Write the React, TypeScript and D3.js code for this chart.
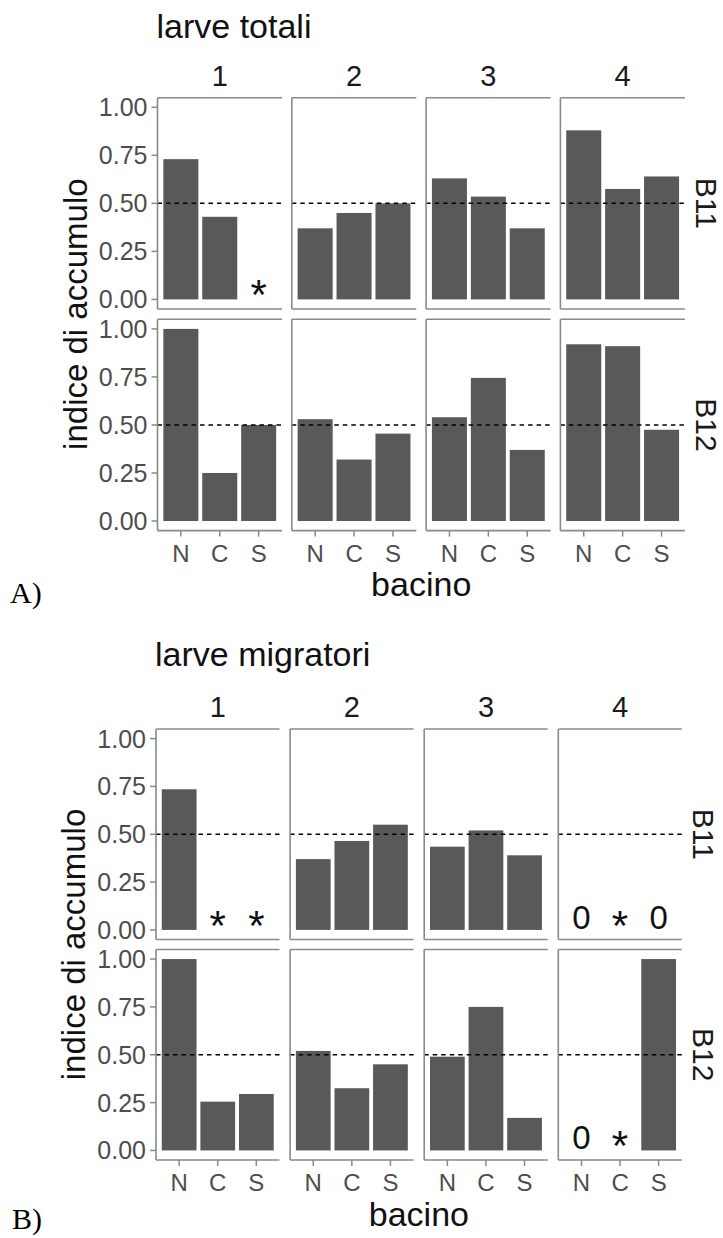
import React from "react";
import * as d3 from "d3";

// Categories
const bacini = ["N", "C", "S"];
const facets = ["1", "2", "3", "4"];
const rowLabels = ["B11", "B12"];
const yTicks = [0, 0.25, 0.5, 0.75, 1];
const threshold = 0.5;

// Accumulation index per facet (1..4), each [N, C, S].
// null = no data (shown as "*"), 0 = zero (shown as "0").
const totaliB11: (number | null)[][] = [
  [0.73, 0.43, null],
  [0.37, 0.45, 0.5],
  [0.63, 0.535, 0.37],
  [0.88, 0.575, 0.64],
];
const totaliB12: (number | null)[][] = [
  [1.0, 0.25, 0.5],
  [0.53, 0.32, 0.455],
  [0.54, 0.745, 0.37],
  [0.92, 0.91, 0.475],
];
const migratoriB11: (number | null)[][] = [
  [0.735, null, null],
  [0.37, 0.465, 0.55],
  [0.435, 0.52, 0.39],
  [0, null, 0],
];
const migratoriB12: (number | null)[][] = [
  [1.0, 0.255, 0.295],
  [0.52, 0.325, 0.45],
  [0.49, 0.75, 0.17],
  [0, null, 1.0],
];

const charts = [
  {
    title: "larve totali",
    tag: "A)",
    rows: [totaliB11, totaliB12],
    layout: { top: 97.7, rowH: 211.3, rowGap: 10.3, x0: 157.5, step: 134.3, panelW: 124.5, titleY: 38, tagX: 10, tagY: 603 },
  },
  {
    title: "larve migratori",
    tag: "B)",
    rows: [migratoriB11, migratoriB12],
    layout: { top: 729, rowH: 210.5, rowGap: 10, x0: 156, step: 134.1, panelW: 123.5, titleY: 666, tagX: 12, tagY: 1229 },
  },
];

const FONT = "'Liberation Sans', Arial, Helvetica, sans-serif";
const BAR = "#595959";
const AXIS = "#8a8a8a";
const TICKTEXT = "#4d4d4d";
const STRIPTEXT = "#1a1a1a";

function FacetChart({ chart }: { chart: (typeof charts)[number] }) {
  const L = chart.layout;
  const bottomEdge = L.top + 2 * L.rowH + L.rowGap;
  const rightEdge = L.x0 + 3 * L.step + L.panelW;
  const midX = (L.x0 + rightEdge) / 2;
  const midY = (L.top + bottomEdge) / 2;

  return (
    <g>
      <text x={L.x0 - 1} y={L.titleY} fontSize={34} fill="#111" fontFamily={FONT}>
        {chart.title}
      </text>
      <text x={L.tagX} y={L.tagY} fontSize={30} fill="#000" fontFamily="'Liberation Serif', 'Times New Roman', serif">
        {chart.tag}
      </text>
      <text
        transform={`translate(${L.x0 - 71},${midY}) rotate(-90)`}
        textAnchor="middle"
        fontSize={33}
        fill="#111"
        fontFamily={FONT}
      >
        indice di accumulo
      </text>
      <text x={midX} y={bottomEdge + 65.5} textAnchor="middle" fontSize={34} fill="#111" fontFamily={FONT}>
        bacino
      </text>

      {facets.map((f, fi) => {
        const left = L.x0 + fi * L.step;
        return (
          <text key={"strip" + f} x={left + L.panelW / 2} y={L.top - 12} textAnchor="middle" fontSize={29} fill={STRIPTEXT} fontFamily={FONT}>
            {f}
          </text>
        );
      })}

      {chart.rows.map((rowData, ri) => {
        const top = L.top + ri * (L.rowH + L.rowGap);
        const bottom = top + L.rowH;
        const y = d3.scaleLinear().domain([-0.05, 1.05]).range([bottom, top]);
        const isLastRow = ri === chart.rows.length - 1;
        return (
          <g key={"row" + ri}>
            <text
              transform={`translate(${rightEdge + 11},${(top + bottom) / 2}) rotate(90)`}
              textAnchor="middle"
              fontSize={30}
              fill={STRIPTEXT}
              fontFamily={FONT}
            >
              {rowLabels[ri]}
            </text>
            {/* y axis on first column */}
            {yTicks.map((t) => (
              <g key={"yt" + t}>
                <line x1={L.x0 - 6} x2={L.x0} y1={y(t)} y2={y(t)} stroke={AXIS} strokeWidth={1.5} />
                <text x={L.x0 - 10} y={y(t)} dy="0.36em" textAnchor="end" fontSize={25} fill={TICKTEXT} fontFamily={FONT}>
                  {d3.format(".2f")(t)}
                </text>
              </g>
            ))}
            {facets.map((f, fi) => {
              const left = L.x0 + fi * L.step;
              const x = d3
                .scaleBand<string>()
                .domain(bacini)
                .range([left, left + L.panelW])
                .paddingInner(0.1)
                .paddingOuter(0.15);
              const vals = rowData[fi];
              return (
                <g key={"p" + f}>
                  {bacini.map((b, bi) => {
                    const v = vals[bi];
                    if (v === null || v === 0) return null;
                    return (
                      <rect key={b} x={x(b)!} width={x.bandwidth()} y={y(v)} height={y(0) - y(v)} fill={BAR} />
                    );
                  })}
                  {bacini.map((b, bi) => {
                    const v = vals[bi];
                    const cx = x(b)! + x.bandwidth() / 2;
                    if (v === null)
                      return (
                        <text key={"s" + b} x={cx} y={y(0) + 10} textAnchor="middle" fontSize={42} fill="#111" fontFamily={FONT}>
                          *
                        </text>
                      );
                    if (v === 0)
                      return (
                        <text key={"z" + b} x={cx} y={y(0) - 1} textAnchor="middle" fontSize={33} fill="#111" fontFamily={FONT}>
                          0
                        </text>
                      );
                    return null;
                  })}
                  <line
                    x1={left}
                    x2={left + L.panelW}
                    y1={y(threshold)}
                    y2={y(threshold)}
                    stroke="#000"
                    strokeWidth={1.5}
                    strokeDasharray="4.5,4"
                  />
                  {/* panel frame: left, top and bottom */}
                  <line x1={left} x2={left} y1={top} y2={bottom} stroke={AXIS} strokeWidth={1.6} />
                  <line x1={left} x2={left + L.panelW} y1={top} y2={top} stroke={AXIS} strokeWidth={1.6} />
                  <line x1={left} x2={left + L.panelW} y1={bottom} y2={bottom} stroke={AXIS} strokeWidth={1.6} />
                  {isLastRow &&
                    bacini.map((b) => {
                      const cx = x(b)! + x.bandwidth() / 2;
                      return (
                        <g key={"xt" + b}>
                          <line x1={cx} x2={cx} y1={bottom} y2={bottom + 6} stroke={AXIS} strokeWidth={1.5} />
                          <text x={cx} y={bottom + 31} textAnchor="middle" fontSize={24} fill={TICKTEXT} fontFamily={FONT}>
                            {b}
                          </text>
                        </g>
                      );
                    })}
                </g>
              );
            })}
          </g>
        );
      })}
    </g>
  );
}

export default function App() {
  return (
    <svg
      width={723}
      height={1238}
      viewBox="0 0 723 1238"
      style={{ position: "absolute", left: 0, top: 0, background: "#fff" }}
    >
      <rect width={723} height={1238} fill="#fff" />
      {charts.map((c) => (
        <FacetChart key={c.title} chart={c} />
      ))}
    </svg>
  );
}
